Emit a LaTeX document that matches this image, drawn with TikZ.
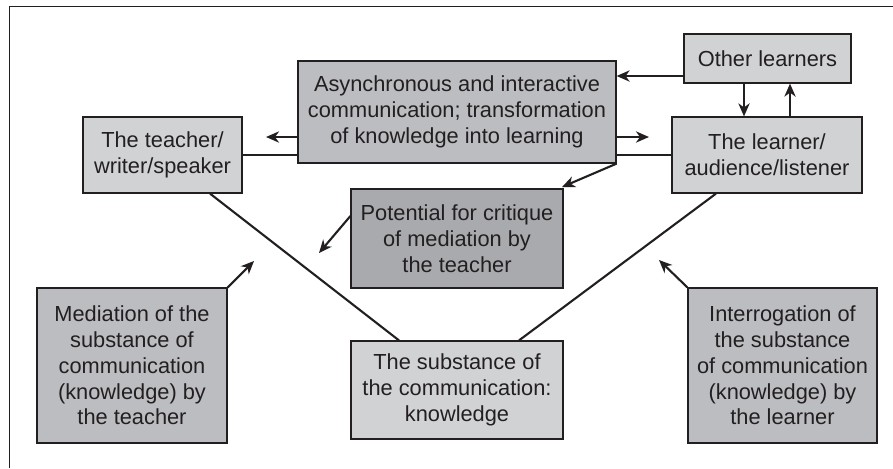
\documentclass[tikz,border=0pt]{standalone}
\usepackage{fontspec}
\setmainfont{Liberation Sans}
\usetikzlibrary{arrows.meta}
\definecolor{lightbox}{HTML}{D1D2D4}
\definecolor{midbox}{HTML}{BCBDC0}
\definecolor{darkbox}{HTML}{A9AAAD}
\definecolor{ink}{HTML}{231F20}
\tikzset{
  box/.style={draw=ink, line width=0.6pt, align=center, inner sep=0pt, text=ink,
    font=\fontsize{10.9}{12.9}\selectfont},
  conn/.style={draw=ink, line width=1.05pt},
  arr/.style={conn, -{Stealth[length=6.5pt, width=5.6pt, inset=2pt]}}
}
\begin{document}
\begin{tikzpicture}[x=0.5pt, y=-0.5pt]
\useasboundingbox (0,0) rectangle (893,468);
\draw[ink, line width=0.6pt] (9.5,468) -- (9.5,6.5) -- (893,6.5);

\node[box, fill=lightbox, minimum width=79.5pt, minimum height=38pt] (teacher) at (162.5,155) {The teacher/\\writer/speaker};
\node[box, fill=midbox, minimum width=159pt, minimum height=51pt] (async) at (457,112) {Asynchronous and interactive\\communication; transformation\\of knowledge into learning};
\node[box, fill=lightbox, minimum width=83.5pt, minimum height=24.5pt] (other) at (767.5,58.5) {Other learners};
\node[box, fill=lightbox, minimum width=95pt, minimum height=38pt] (learner) at (767,155) {The learner/\\audience/listener};
\node[box, fill=darkbox, minimum width=106pt, minimum height=49.5pt] (potential) at (457,238.5) {Potential for critique\\of mediation by\\the teacher};
\node[box, fill=midbox, minimum width=95pt, minimum height=77.5pt] (mediation) at (132,365.5) {Mediation of the\\substance of\\communication\\(knowledge) by\\the teacher};
\node[box, fill=lightbox, minimum width=106pt, minimum height=49pt] (substance) at (457,390) {The substance of\\the communication:\\knowledge};
\node[box, fill=midbox, minimum width=94.5pt, minimum height=77.5pt] (interrogation) at (782.5,365.5) {Interrogation of\\the substance\\of communication\\(knowledge) by\\the learner};

\coordinate (tipA) at (266,137);
\coordinate (tipB) at (649,137);
\coordinate (rowC) at (650,76);
\coordinate (colD) at (744,100);
\coordinate (colU) at (790,100);
\coordinate (tipE) at (562,187);
\coordinate (tipF) at (319,253);
\coordinate (rowF) at (340,216);
\coordinate (tipG) at (254,261);
\coordinate (tipH) at (659,260);
\coordinate (tL) at (210,300);
\coordinate (sL) at (399,300);
\coordinate (lR) at (716,300);
\coordinate (sR) at (519,300);

\draw[conn] (teacher.east) -- (teacher.east -| async.west);
\draw[conn] (learner.west) -- (learner.west -| async.east);
\draw[arr] (async.west |- tipA) -- (tipA);
\draw[arr] (async.east |- tipB) -- (tipB);
\draw[arr] (other.west |- rowC) -- (async.east |- rowC);
\draw[arr] (other.south -| colD) -- (learner.north -| colD);
\draw[arr] (learner.north -| colU) -- (other.south -| colU);
\draw[arr] (async.south east) -- (tipE);
\draw[arr] (potential.west |- rowF) -- (tipF);
\draw[arr] (mediation.north east) -- (tipG);
\draw[arr] (interrogation.north west) -- (tipH);
\draw[conn] (teacher.south -| tL) -- (substance.north -| sL);
\draw[conn] (learner.south -| lR) -- (substance.north -| sR);
\end{tikzpicture}
\end{document}
